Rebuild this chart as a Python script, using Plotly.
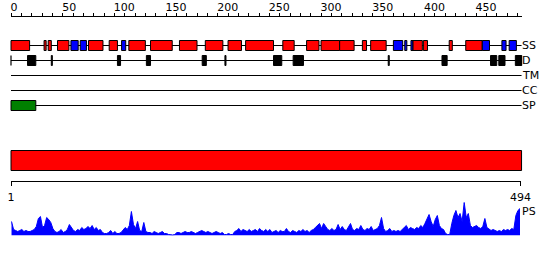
import plotly.graph_objects as go

# ---------------- data ----------------
SEQ_LEN = 494
top_ticks = list(range(0, 500, 10))
top_labels = [str(v) if v % 50 == 0 else "" for v in top_ticks]
bottom_ticks = [1, 494]
bottom_labels = ["1", "494"]

# secondary structure (H = helix, red; E = strand, blue), residue ranges
ss_start = [1, 33, 37, 46, 59, 68, 76, 96, 108, 115, 136, 164, 189, 211, 228, 264,
            287, 301, 319, 341, 349, 371, 382, 388, 390, 400, 425, 441, 457, 476, 483]
ss_end = [18, 34, 39, 56, 65, 73, 89, 103, 111, 130, 156, 180, 205, 223, 254, 274,
          298, 318, 332, 344, 363, 379, 383, 389, 398, 403, 427, 456, 463, 479, 489]
ss_type = ["H", "H", "H", "H", "E", "E", "H", "H", "E", "H", "H", "H", "H", "H", "H", "H",
           "H", "H", "H", "H", "H", "E", "E", "E", "H", "H", "H", "H", "E", "E", "E"]

# disorder (D) segments
dis_start = [17, 40, 104, 132, 186, 208, 255, 274, 366, 418, 465, 473, 489]
dis_end = [24, 40, 106, 135, 189, 208, 262, 283, 366, 422, 470, 478, 494]

# signal peptide
sp_start = [1]
sp_end = [24]

# domain bar
dom_start = [1]
dom_end = [494]

lanes = ["SS", "D", "TM", "CC", "SP"]

# PS profile (every second residue)
ps_pos = list(range(1, 494, 2))
ps_val = [
    0.28, 0.12, 0.10, 0.08, 0.10, 0.12, 0.08, 0.10, 0.08, 0.08, 0.10, 0.12, 0.18, 0.34, 0.38, 0.16,
    0.20, 0.36, 0.32, 0.26, 0.14, 0.08, 0.06, 0.08, 0.12, 0.06, 0.08, 0.12, 0.22, 0.16, 0.10, 0.08,
    0.12, 0.10, 0.16, 0.12, 0.14, 0.18, 0.14, 0.20, 0.12, 0.16, 0.10, 0.12, 0.06, 0.04, 0.04, 0.06,
    0.10, 0.04, 0.08, 0.04, 0.04, 0.06, 0.10, 0.16, 0.12, 0.20, 0.48, 0.22, 0.14, 0.28, 0.10, 0.08,
    0.26, 0.08, 0.06, 0.06, 0.04, 0.08, 0.06, 0.04, 0.06, 0.08, 0.04, 0.04, 0.02, 0.01, 0.01, 0.02,
    0.06, 0.06, 0.04, 0.06, 0.08, 0.06, 0.06, 0.08, 0.06, 0.04, 0.06, 0.08, 0.10, 0.08, 0.06, 0.08,
    0.06, 0.04, 0.06, 0.08, 0.06, 0.04, 0.06, 0.02, 0.02, 0.04, 0.02, 0.02, 0.08, 0.10, 0.14, 0.08,
    0.12, 0.10, 0.08, 0.12, 0.08, 0.10, 0.12, 0.08, 0.14, 0.10, 0.08, 0.12, 0.08, 0.12, 0.06, 0.08,
    0.10, 0.06, 0.10, 0.08, 0.08, 0.14, 0.08, 0.06, 0.10, 0.08, 0.06, 0.10, 0.08, 0.12, 0.08, 0.10,
    0.06, 0.10, 0.12, 0.16, 0.20, 0.24, 0.14, 0.24, 0.18, 0.12, 0.10, 0.14, 0.10, 0.12, 0.22, 0.12,
    0.18, 0.12, 0.10, 0.16, 0.24, 0.12, 0.10, 0.14, 0.12, 0.20, 0.12, 0.10, 0.14, 0.12, 0.18, 0.10,
    0.12, 0.14, 0.20, 0.36, 0.14, 0.08, 0.10, 0.14, 0.08, 0.10, 0.08, 0.10, 0.08, 0.12, 0.16, 0.20,
    0.12, 0.16, 0.14, 0.12, 0.16, 0.14, 0.20, 0.16, 0.24, 0.34, 0.42, 0.28, 0.18, 0.32, 0.40, 0.20,
    0.14, 0.12, 0.04, 0.02, 0.02, 0.24, 0.40, 0.50, 0.36, 0.44, 0.28, 0.66, 0.36, 0.44, 0.20, 0.16,
    0.18, 0.20, 0.16, 0.14, 0.18, 0.34, 0.16, 0.12, 0.10, 0.12, 0.10, 0.08, 0.10, 0.08, 0.12, 0.10,
    0.12, 0.10, 0.14, 0.12, 0.40, 0.50, 0.54,
]

# ---------------- layout constants ----------------
W, H = 550, 260
PX0 = 11.0          # pixel of position 0
K = 1.0335          # pixels per residue
FONT = "DejaVu Sans"
lane_y = [45.5, 60.5, 75.5, 90.5, 105.5]
box_half = 5.0
ps_label_y = 211
TOP_AXIS_Y = 15.5
BOTTOM_AXIS_Y = 180.5
PS_BASE = 235.5
PS_TOP = 185.5
dom_y0, dom_y1 = 150.5, 170.5

x_rng = [-PX0 / K, (W - PX0) / K]
colors = {"H": "#ff0000", "E": "#0000ff"}

# pad top tick labels to a common width (figure spaces) so they start at their tick
FIG_SP = "\u2007"
top_text = [t + FIG_SP * (3 - len(t)) if t else "" for t in top_labels]

fig = go.Figure()

shapes = []
# lane baselines
for yv in lane_y:
    shapes.append(dict(type="line", xref="x", yref="y", x0=0, x1=SEQ_LEN, y0=yv, y1=yv,
                       line=dict(color="black", width=1), layer="above"))
# D lane end ticks
for xv in (0, SEQ_LEN):
    shapes.append(dict(type="line", xref="x", yref="y", x0=xv, x1=xv,
                       y0=lane_y[1] - box_half, y1=lane_y[1] + box_half,
                       line=dict(color="black", width=1.2), layer="above"))
# SS boxes
for s, e, t in zip(ss_start, ss_end, ss_type):
    shapes.append(dict(type="rect", xref="x", yref="y", x0=s - 1, x1=e,
                       y0=lane_y[0] - box_half, y1=lane_y[0] + box_half,
                       fillcolor=colors[t], line=dict(color="black", width=1), layer="above"))
# disorder boxes
for s, e in zip(dis_start, dis_end):
    shapes.append(dict(type="rect", xref="x", yref="y", x0=s - 1, x1=e,
                       y0=lane_y[1] - box_half, y1=lane_y[1] + box_half,
                       fillcolor="black", line=dict(color="black", width=1), layer="above"))
# signal peptide
for s, e in zip(sp_start, sp_end):
    shapes.append(dict(type="rect", xref="x", yref="y", x0=s - 1, x1=e,
                       y0=lane_y[4] - box_half, y1=lane_y[4] + box_half,
                       fillcolor="#008000", line=dict(color="black", width=1), layer="above"))
# domain bar
for s, e in zip(dom_start, dom_end):
    shapes.append(dict(type="rect", xref="x", yref="y", x0=s - 1, x1=e,
                       y0=dom_y0, y1=dom_y1,
                       fillcolor="#ff0000", line=dict(color="black", width=1), layer="above"))

# PS profile
fig.add_trace(go.Scatter(
    x=[p - 0.5 for p in ps_pos], y=ps_val, xaxis="x", yaxis="y3",
    mode="lines", line=dict(color="#0000ff", width=1, shape="linear"),
    fill="tozeroy", fillcolor="#0000ff", hoverinfo="skip", showlegend=False))

# helper invisible traces so the extra axes are drawn
fig.add_trace(go.Scatter(x=[0, SEQ_LEN], y=[0, 0], xaxis="x2", yaxis="y3", mode="markers",
                         marker=dict(opacity=0), hoverinfo="skip", showlegend=False))
fig.add_trace(go.Scatter(x=bottom_ticks, y=[0, 0], xaxis="x3", yaxis="y3", mode="markers",
                         marker=dict(opacity=0), hoverinfo="skip", showlegend=False))
fig.add_trace(go.Scatter(x=[0], y=[0], xaxis="x", yaxis="y", mode="markers",
                         marker=dict(opacity=0), hoverinfo="skip", showlegend=False))

annotations = []
for name, yv in zip(lanes, lane_y):
    annotations.append(dict(x=SEQ_LEN, y=yv, xref="x", yref="y", text=name, showarrow=False,
                            xanchor="left", yanchor="middle", xshift=-2,
                            font=dict(family=FONT, size=11, color="black")))
annotations.append(dict(x=SEQ_LEN, y=ps_label_y, xref="x", yref="y", text="PS", showarrow=False,
                        xanchor="left", yanchor="middle", xshift=-2,
                        font=dict(family=FONT, size=11, color="black")))

dom_lo = PX0 / W
dom_hi = (PX0 + SEQ_LEN * K) / W
bot_lo = (PX0 + 0.0) / W
bot_hi = (PX0 + (SEQ_LEN - 1) * K) / W

fig.update_layout(
    width=W, height=H, margin=dict(l=0, r=0, t=0, b=0, pad=0, autoexpand=False),
    paper_bgcolor="white", plot_bgcolor="rgba(0,0,0,0)", showlegend=False,
    shapes=shapes, annotations=annotations,
    font=dict(family=FONT, size=11, color="black"),
    xaxis=dict(range=x_rng, domain=[0, 1], visible=False, fixedrange=True, automargin=False),
    yaxis=dict(range=[H, 0], domain=[0, 1], visible=False, fixedrange=True, automargin=False),
    xaxis2=dict(range=[0, SEQ_LEN], domain=[dom_lo, dom_hi], anchor="free",
                position=1 - TOP_AXIS_Y / H, side="top", showline=True, linecolor="black",
                linewidth=1, ticks="outside", ticklen=3, tickcolor="black", tickwidth=1,
                tickvals=top_ticks, ticktext=top_text, showgrid=False, zeroline=False,
                ticklabelshift=10, ticklabelstandoff=-3, automargin=False, fixedrange=True,
                tickfont=dict(family=FONT, size=11, color="black")),
    xaxis3=dict(range=[1, SEQ_LEN], domain=[bot_lo, bot_hi], anchor="free",
                position=1 - BOTTOM_AXIS_Y / H, side="bottom", showline=True, linecolor="black",
                linewidth=1, ticks="outside", ticklen=4, tickcolor="black", tickwidth=1,
                tickvals=bottom_ticks, ticktext=bottom_labels, showgrid=False, zeroline=False,
                ticklabelstandoff=2, automargin=False, fixedrange=True,
                tickfont=dict(family=FONT, size=11, color="black")),
    yaxis3=dict(range=[0, 1], domain=[1 - PS_BASE / H, 1 - PS_TOP / H], anchor="x",
                visible=False, fixedrange=True, automargin=False),
)

fig.write_html("out.html")
